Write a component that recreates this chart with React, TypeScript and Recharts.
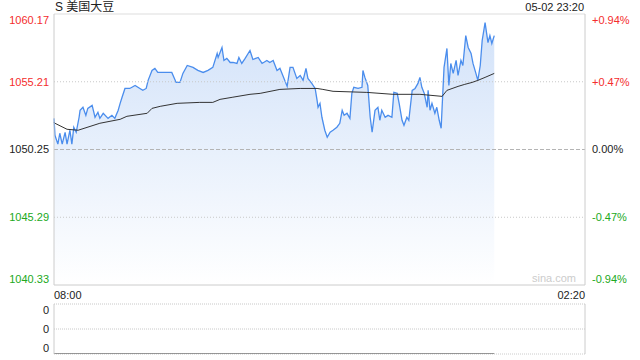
import {Area, ComposedChart, Line, ReferenceLine, XAxis, YAxis} from "recharts";

// minutes since 08:00 for each price sample
const priceTimes = [
  0, 2, 8, 12, 17, 23, 27, 33, 37, 41,
  46, 52, 54, 60, 66, 70, 79, 85, 91, 95,
  102, 112, 120, 126, 133, 137, 141, 147, 157, 168,
  178, 184, 191, 195, 203, 209, 215, 230, 244, 253,
  261, 267, 276, 288, 298, 309, 319, 329, 338, 340,
  348, 352, 358, 365, 371, 379, 383, 389, 396, 406,
  412, 423, 431, 441, 447, 454, 462, 468, 474, 483,
  489, 495, 503, 510, 516, 522, 526, 534, 541, 545,
  547, 551, 555, 561, 566, 572, 578, 586, 592, 597,
  601, 607, 613, 617, 621, 630, 638, 640, 644, 650,
  655, 659, 665, 671, 675, 679, 686, 692, 700, 704,
  711, 715, 721, 725, 731, 735, 742, 748, 754, 758,
  762, 767, 773, 775, 779, 783, 789, 793, 798, 802,
  804, 808, 814, 818, 822, 827, 833, 837, 843, 847,
  853, 858, 864, 868, 874, 878, 883, 887, 893, 899,
  903, 907, 912,
];

const priceValues = [
  1052.53, 1051.29, 1050.64, 1051.44, 1050.64, 1051.51, 1050.64, 1051.66, 1050.64, 1051.88,
  1051.51, 1052.61, 1053.12, 1053.34, 1052.75, 1053.26, 1053.48, 1052.61, 1052.97, 1052.53,
  1052.9, 1052.53, 1052.75, 1052.53, 1053.12, 1053.63, 1054.07, 1054.72, 1054.72, 1054.94,
  1054.72, 1054.58, 1054.72, 1055.31, 1056.04, 1056.19, 1055.89, 1055.89, 1055.89, 1055.16,
  1055.16, 1055.82, 1056.4, 1056.26, 1056.04, 1055.89, 1056.04, 1056.26, 1057.28, 1056.99,
  1057.72, 1056.77, 1056.92, 1056.62, 1056.62, 1056.55, 1056.99, 1056.55, 1056.92, 1057.5,
  1056.84, 1056.99, 1056.55, 1056.77, 1056.62, 1056.77, 1056.04, 1056.19, 1055.67, 1054.87,
  1056.26, 1056.26, 1055.45, 1055.67, 1055.31, 1056.19, 1055.45, 1055.09, 1054.72, 1053.85,
  1053.34, 1053.63, 1052.61, 1051.66, 1051.15, 1051.51, 1051.66, 1051.88, 1052.17, 1053.12,
  1052.75, 1052.9, 1052.53, 1054.36, 1054.8, 1054.72, 1054.8, 1056.04, 1055.53, 1054.94,
  1052.61, 1051.51, 1053.12, 1053.34, 1052.39, 1053.12, 1052.61, 1052.75, 1052.61, 1054.43,
  1054.36, 1053.63, 1052.39, 1052.02, 1052.61, 1052.39, 1054.58, 1054.72, 1055.09, 1055.53,
  1054.8, 1054.36, 1053.34, 1054.58, 1053.12, 1053.63, 1052.9, 1053.34, 1052.39, 1051.8,
  1053.34, 1056.26, 1057.65, 1054.94, 1056.55, 1055.82, 1056.77, 1055.67, 1056.77, 1056.4,
  1058.59, 1057.72, 1057.28, 1056.55, 1055.82, 1055.31, 1056.4, 1058.23, 1059.54, 1058.08,
  1058.59, 1058.01, 1058.59,
];

const avgTimes = [
  0, 2, 27, 50, 95, 137, 151, 193, 203, 220, 255, 302, 329, 344, 369, 406, 427,
  468, 510, 545, 557, 578, 648, 702, 758, 804, 814, 837, 851, 866, 878, 893, 912,
];
const avgValues = [
  1052.24, 1052.17, 1051.73, 1051.66, 1052.17, 1052.46, 1052.68, 1052.9, 1053.26, 1053.41, 1053.63,
  1053.7, 1053.7, 1053.92, 1054.07, 1054.29, 1054.36, 1054.65, 1054.72, 1054.72, 1054.65, 1054.51,
  1054.43, 1054.29, 1054.29, 1054.14, 1054.58, 1054.87, 1055.02, 1055.16, 1055.31, 1055.53, 1055.82,
];

const prevClose = 1050.25;
const priceTicks = [1040.33, 1045.29, 1050.25, 1055.21, 1060.17];
const timeTicks = [0, 1100];
const timeLabels = ["08:00", "02:20"];

const volTimes = [0, 912];
const volValues = [0, 0];
const volTicks = [0, 0.5, 1];
const volLabels = ["0", "0", "0"];

const FONT = '"Liberation Sans", Arial, "Noto Sans CJK SC", sans-serif';
const RED = "#f42d2d";
const GREEN = "#21a921";

const rows = Array.from(new Set([...priceTimes, ...avgTimes]))
  .sort((a, b) => a - b)
  .map((t) => {
    const pi = priceTimes.indexOf(t);
    const ai = avgTimes.indexOf(t);
    return {t, price: pi >= 0 ? priceValues[pi] : null, avg: ai >= 0 ? avgValues[ai] : null};
  });

const volRows = volTimes.map((t, i) => ({t, vol: volValues[i]}));

const tickColor = (v: number) => (v > prevClose ? RED : v < prevClose ? GREEN : "#222");
const edgeShift = (v: number, lo: number, hi: number) => (v === lo ? -6 : v === hi ? 6 : 0);

function PriceTick({x, y, payload}: any) {
  const v = payload.value;
  return (
    <text x={x} y={y + edgeShift(v, 1040.33, 1060.17)} dy="0.35em" textAnchor="end" fontSize={11} fontFamily={FONT} fill={tickColor(v)}>
      {v.toFixed(2)}
    </text>
  );
}

function PctTick({x, y, payload}: any) {
  const v = payload.value;
  const pct = ((v - prevClose) / prevClose) * 100;
  const label = (pct > 0.001 ? "+" : "") + pct.toFixed(2) + "%";
  return (
    <text x={x} y={y + edgeShift(v, 1040.33, 1060.17)} dy="0.35em" textAnchor="start" fontSize={11} fontFamily={FONT} fill={tickColor(v)}>
      {label}
    </text>
  );
}

function TimeTick({x, y, payload, index}: any) {
  return (
    <text x={x} y={y + 8} dy="0.35em" textAnchor={index === 0 ? "start" : "end"} fontSize={11} fontFamily={FONT} fill="#222">
      {timeLabels[timeTicks.indexOf(payload.value)]}
    </text>
  );
}

function VolTick({x, y, payload}: any) {
  const v = payload.value;
  return (
    <text x={x} y={y + edgeShift(v, 0, 1)} dy="0.35em" textAnchor="end" fontSize={11} fontFamily={FONT} fill="#222">
      {volLabels[volTicks.indexOf(v)]}
    </text>
  );
}

export default function App() {
  return (
    <div style={{position: "absolute", left: 0, top: 0, width: 640, height: 360, background: "#fff", fontFamily: FONT}}>
      <div style={{position: "absolute", left: 55, top: 0, fontSize: 12, color: "#222", lineHeight: "14px"}}>S 美国大豆</div>
      <div style={{position: "absolute", right: 56, top: 1, fontSize: 11, color: "#222", lineHeight: "13px"}}>05-02 23:20</div>

      <div style={{position: "absolute", left: 0, top: 0}}>
        <ComposedChart width={640} height={300} data={rows} margin={{top: 14, right: 0, bottom: 0, left: 0}}>
          <defs>
            <linearGradient id="priceFill" x1="0" y1="0" x2="0" y2="1">
              <stop offset="0%" stopColor="#d2e2f9" />
              <stop offset="100%" stopColor="#ffffff" />
            </linearGradient>
          </defs>
          <XAxis
            dataKey="t"
            type="number"
            domain={[0, 1100]}
            ticks={timeTicks}
            tick={<TimeTick />}
            interval={0}
            tickSize={0}
            tickLine={false}
            height={15}
            axisLine={{stroke: "#cccccc"}}
          />
          <YAxis
            yAxisId="l"
            domain={[1040.33, 1060.17]}
            ticks={priceTicks}
            tick={<PriceTick />}
            interval={0}
            tickSize={3}
            tickLine={false}
            width={54}
            axisLine={{stroke: "#cccccc"}}
            allowDataOverflow
          />
          <YAxis
            yAxisId="r"
            orientation="right"
            domain={[1040.33, 1060.17]}
            ticks={priceTicks}
            tick={<PctTick />}
            interval={0}
            tickSize={5}
            tickLine={false}
            width={55}
            axisLine={{stroke: "#cccccc"}}
            allowDataOverflow
          />
          <ReferenceLine yAxisId="l" y={1060.17} stroke="#dddddd" />
          <ReferenceLine yAxisId="l" y={1055.21} stroke="#c8c8c8" strokeDasharray="1 2" />
          <ReferenceLine yAxisId="l" y={1045.29} stroke="#c8c8c8" strokeDasharray="1 2" />
          <Area
            yAxisId="l"
            dataKey="price"
            type="linear"
            stroke="#4a8ded"
            strokeWidth={1.3}
            fill="url(#priceFill)"
            fillOpacity={1}
            connectNulls
            dot={false}
            activeDot={false}
            isAnimationActive={false}
          />
          <ReferenceLine yAxisId="l" y={1050.25} stroke="#b4b4b4" strokeDasharray="4 2" />
          <Line
            yAxisId="l"
            dataKey="avg"
            type="linear"
            stroke="#333333"
            strokeWidth={1}
            connectNulls
            dot={false}
            activeDot={false}
            isAnimationActive={false}
          />
        </ComposedChart>
      </div>

      <div style={{position: "absolute", left: 532, top: 272, fontSize: 11, color: "#cccccc", lineHeight: "13px"}}>sina.com</div>

      <div style={{position: "absolute", left: 0, top: 300}}>
        <ComposedChart width={640} height={60} data={volRows} margin={{top: 4, right: 0, bottom: 6, left: 0}}>
          <XAxis dataKey="t" type="number" domain={[0, 1100]} hide />
          <YAxis
            domain={[0, 1]}
            ticks={volTicks}
            tick={<VolTick />}
            interval={0}
            tickSize={3}
            tickLine={false}
            width={54}
            axisLine={{stroke: "#cccccc"}}
            allowDataOverflow
          />
          <YAxis yAxisId="r" orientation="right" width={55} tick={false} tickLine={false} axisLine={{stroke: "#cccccc"}} />
          <ReferenceLine y={1} stroke="#c8c8c8" strokeDasharray="1 1" />
          <ReferenceLine y={0.5} stroke="#c8c8c8" strokeDasharray="1 1" />
          <ReferenceLine y={0} stroke="#cccccc" strokeDasharray="1 1" />
          <Line dataKey="vol" type="linear" stroke="#777777" strokeWidth={1.5} dot={false} activeDot={false} isAnimationActive={false} />
        </ComposedChart>
      </div>
    </div>
  );
}
